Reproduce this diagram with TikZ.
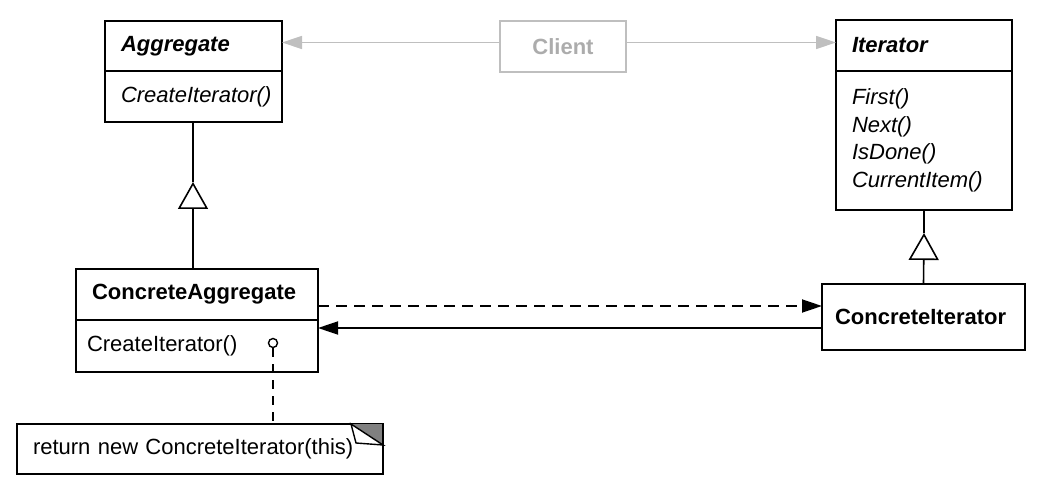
\documentclass[tikz,border=0pt]{standalone}
\usepackage{fontspec}
\setmainfont{Liberation Sans}
\usetikzlibrary{arrows.meta, positioning}
\newcommand{\umlfont}{\fontsize{22}{27.5}\selectfont}
\tikzset{
every node/.style={font=\umlfont},
cls/.style={draw, line width=1.6pt, anchor=north west, align=left, inner xsep=16pt, inner ysep=0pt, outer sep=0pt},
ghost/.style={draw=gray!50, text=gray!65},
dep/.style={-{Triangle[length=20pt,width=13pt]}, line width=1.8pt},
gen/.style={-{Triangle[open,length=27pt,width=30pt]}, line width=1.6pt},
}

\begin{document}
\begin{tikzpicture}[x=1pt, y=-1pt]
    \useasboundingbox (0,0) rectangle (1042,494);

    % abstract classes
    \node[cls, text width=145pt, minimum height=50pt] (agg) at (105,21) {\textbf{\textit{Aggregate}}};
    \node[cls, text width=145pt, minimum height=51pt, below=0pt of agg] (aggops) {\textit{CreateIterator()}};
    \node[cls, text width=144pt, minimum height=51pt] (iter) at (836,20) {\textbf{\textit{Iterator}}};
    \node[cls, text width=144pt, minimum height=139pt, below=0pt of iter, font=\umlfont\itshape] (iterops) {First()\\Next()\\IsDone()\\CurrentItem()};
    \node[cls, ghost, anchor=center, align=center, minimum width=126pt, minimum height=51pt, line width=1.4pt] (client) at (563,46.5) {\textbf{Client}};

    % concrete classes
    \node[cls, text width=210pt, minimum height=51pt] (cagg) at (76,269) {\textbf{ConcreteAggregate}};
    \node[cls, text width=220pt, inner xsep=11pt, minimum height=52pt, below=0pt of cagg] (caggops) {CreateIterator()};
    \node[cls, text width=177pt, inner xsep=13pt, minimum height=66pt] (citer) at (822,284) {\textbf{ConcreteIterator}};

    % note
    \node[cls, draw=none, text width=334pt, minimum height=50pt] (note) at (17,424) {return new ConcreteIterator(this)};
    \draw[line width=1.4pt] (note.north west) -- (note.north east) -- (note.south east) -- (note.south west) -- cycle;
    \fill[gray] ([xshift=-32pt]note.north east) -- (note.north east) -- ([yshift=-21pt]note.north east) -- cycle;
    \draw[line width=1.4pt, fill=white] ([xshift=-32pt]note.north east) -- ([xshift=-27pt,yshift=-19pt]note.north east) -- ([yshift=-21pt]note.north east) -- cycle;
    \draw[line width=1.4pt] (note.north east) -- (note.south east);
    \node[circle, draw, line width=1.4pt, inner sep=0pt, minimum size=9pt, fill=white] (dot) at (273,343) {};

    \coordinate (gen1) at (193,182);
    \coordinate (gen2) at (924,233);

    \draw[dep, draw=gray!50, line width=1.4pt] ([yshift=4pt]client.west) -- ([yshift=4pt]client.west -| agg.east);
    \draw[dep, draw=gray!50, line width=1.4pt] ([yshift=4pt]client.east) -- ([yshift=4pt]client.east -| iter.west);
    \draw[gen] (gen1 |- cagg.north) -- (gen1);
    \draw[line width=1.6pt] (gen1) -- (aggops.south -| gen1);
    \draw[gen] (citer.north) -- (gen2);
    \draw[line width=1.6pt] (gen2) -- (iterops.south);
    \draw[dep, dash pattern=on 11pt off 7pt] ([yshift=11pt]citer.west -| cagg.east) -- ([yshift=11pt]citer.west);
    \draw[dep] ([yshift=-11pt]citer.west) -- ([yshift=-11pt]citer.west -| cagg.east);
    \draw[line width=1.4pt, dash pattern=on 9pt off 7pt] (dot) -- (dot |- note.north);
\end{tikzpicture}
\end{document}
